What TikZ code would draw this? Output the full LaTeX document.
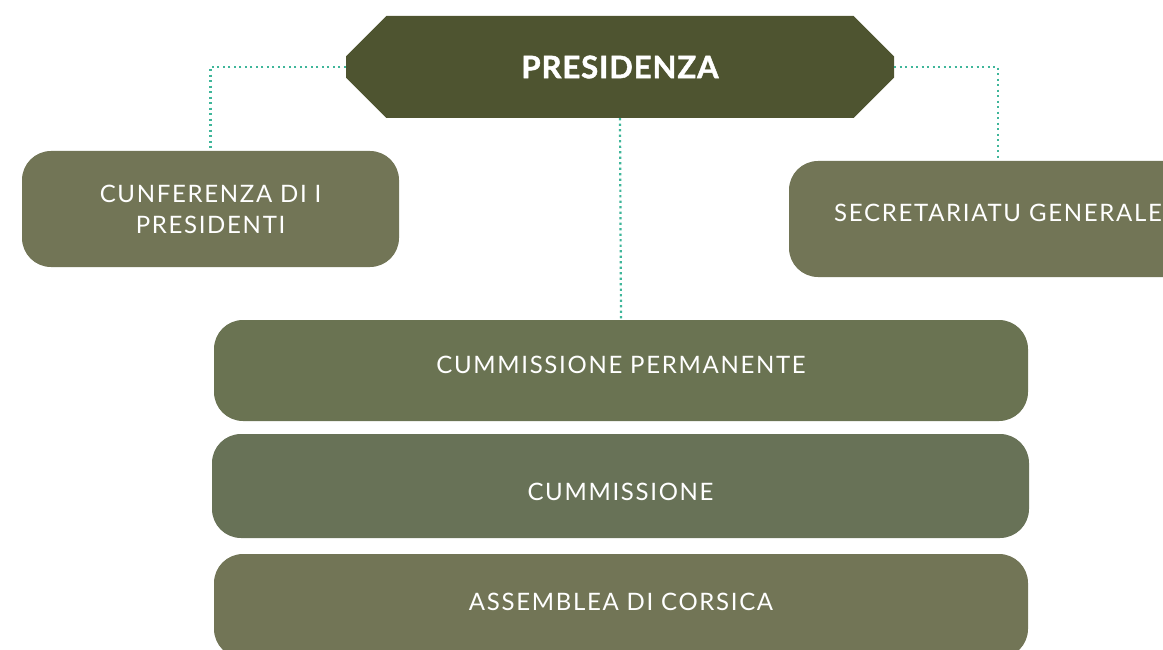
\documentclass[tikz,border=0pt]{standalone}
\usepackage{fontspec}
\setmainfont{Lato}[LetterSpace=7]
\newfontfamily\heavyfont{Lato}[LetterSpace=3,BoldFeatures={FakeBold=1.5}]
\usetikzlibrary{shapes.misc}
\definecolor{presgreen}{HTML}{4E5430}
\definecolor{olivebox}{HTML}{727556}
\definecolor{permbox}{HTML}{6A7352}
\definecolor{cummbox}{HTML}{687257}
\definecolor{dotteal}{HTML}{3FB69A}
\begin{document}
\begin{tikzpicture}[x=1pt,y=-1pt,font=\fontsize{24}{31}\selectfont,
	presbox/.style={chamfered rectangle,chamfered rectangle xsep=31pt,chamfered rectangle ysep=29pt,fill=presgreen,text=white,inner sep=0pt,minimum width=548pt,minimum height=102pt,font=\heavyfont\fontsize{31}{31}\selectfont\bfseries},
	organ/.style={rectangle,rounded corners=29pt,inner sep=0pt,text=white,align=center},
	link/.style={dotteal,line width=2.2pt,dash pattern=on 2.2pt off 3.3pt}]
	\clip (0,0) rectangle (1163,650);
	\useasboundingbox (0,0) rectangle (1163,650);
	% top
	\node[presbox] (pres) at (620,67) {PRESIDENZA};
	% side organs
	\node[organ,fill=olivebox,minimum width=377pt,minimum height=116pt] (conf) at (210.5,209) {CUNFERENZA DI I\\PRESIDENTI};
	\node[organ,fill=olivebox,minimum width=418pt,minimum height=116pt,text width=410pt,text depth=12pt] (secr) at (998,219) {SECRETARIATU GENERALE};
	% stacked organs
	\node[organ,fill=permbox,minimum width=814pt,minimum height=101pt,text depth=12pt] (perm) at (621,370.5) {CUMMISSIONE PERMANENTE};
	\node[organ,fill=cummbox,minimum width=817pt,minimum height=104pt,text height=30pt] (cumm) at (620.5,486) {CUMMISSIONE};
	\node[organ,fill=olivebox,minimum width=814pt,minimum height=104pt,text depth=8pt] (asse) at (621,606) {ASSEMBLEA DI CORSICA};
	% links
	\draw[link] (pres.west) -| (conf.north);
	\draw[link] (pres.east) -| (secr.north);
	\draw[link] (pres.south) -- (perm.north);
\end{tikzpicture}
\end{document}
